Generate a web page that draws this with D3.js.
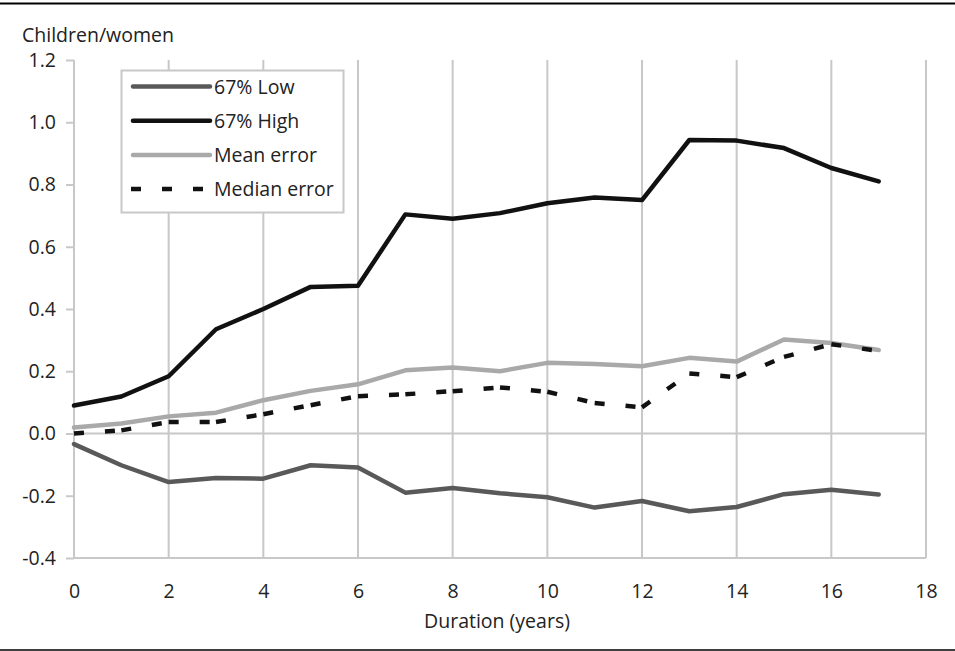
<!DOCTYPE html>
<html>
<head>
<meta charset="utf-8">
<script src="https://cdn.jsdelivr.net/npm/d3@7"></script>
<style>
  body { margin: 0; background: #fff; }
  text { font-family: "Open Sans", "Noto Sans", sans-serif; fill: #222; }
</style>
</head>
<body>
<script>
var years = [0, 1, 2, 3, 4, 5, 6, 7, 8, 9, 10, 11, 12, 13, 14, 15, 16, 17];
var low67 = [-0.034, -0.102, -0.156, -0.143, -0.145, -0.102, -0.109, -0.190, -0.175, -0.192, -0.205, -0.238, -0.217, -0.250, -0.236, -0.195, -0.181, -0.196];
var high67 = [0.090, 0.119, 0.184, 0.335, 0.400, 0.471, 0.475, 0.704, 0.690, 0.708, 0.740, 0.758, 0.750, 0.943, 0.941, 0.917, 0.853, 0.810];
var meanErr = [0.019, 0.032, 0.055, 0.067, 0.107, 0.137, 0.158, 0.203, 0.212, 0.200, 0.227, 0.223, 0.216, 0.243, 0.231, 0.302, 0.291, 0.268];
var medianErr = [0.000, 0.010, 0.037, 0.037, 0.062, 0.091, 0.120, 0.126, 0.136, 0.148, 0.134, 0.098, 0.084, 0.193, 0.181, 0.246, 0.287, 0.265];
var xTicks = [0, 2, 4, 6, 8, 10, 12, 14, 16, 18];
var yTicks = [-0.4, -0.2, 0.0, 0.2, 0.4, 0.6, 0.8, 1.0, 1.2];
var seriesNames = ["67% Low", "67% High", "Mean error", "Median error"];

var W = 955, H = 651;
var margin = {top: 60, right: 29, bottom: 93, left: 74};
var gridColor = "#c8c8c8";
var fontSize = "19.5px";

var svg = d3.select("body").append("svg")
    .attr("width", W)
    .attr("height", H);

// rules above and below the figure
svg.append("line").attr("x1", 0).attr("x2", W).attr("y1", 3.5).attr("y2", 3.5)
    .attr("stroke", "#000").attr("stroke-width", 2);
svg.append("line").attr("x1", 0).attr("x2", W).attr("y1", 650).attr("y2", 650)
    .attr("stroke", "#000").attr("stroke-width", 1.5);

var x = d3.scaleLinear().domain([0, 18]).range([margin.left, W - margin.right]);
var y = d3.scaleLinear().domain([-0.4, 1.2]).range([H - margin.bottom, margin.top]);

var g = svg.append("g");

// vertical grid
g.selectAll(".vgrid")
  .data(xTicks.filter(function(d){ return d > 0; }))
  .enter().append("line")
    .attr("x1", function(d){ return x(d); })
    .attr("x2", function(d){ return x(d); })
    .attr("y1", y(1.2))
    .attr("y2", y(-0.4))
    .attr("stroke", gridColor)
    .attr("stroke-width", 2);

// y axis
var yAxis = d3.axisLeft(y)
    .tickValues(yTicks)
    .tickSize(8)
    .tickPadding(10)
    .tickFormat(d3.format(".1f"));
var ya = g.append("g")
    .attr("transform", "translate(" + x(0) + ",0)")
    .call(yAxis);
ya.select(".domain").remove();
ya.selectAll(".tick line").attr("stroke", gridColor).attr("stroke-width", 2);
ya.selectAll(".tick text").style("font-size", fontSize).attr("fill", "#222")
    .text(function(d){ return d3.format(".1f")(d).replace("−", "-"); });
g.append("line")
    .attr("x1", x(0)).attr("x2", x(0))
    .attr("y1", y(1.2)).attr("y2", y(-0.4))
    .attr("stroke", gridColor).attr("stroke-width", 2);

// horizontal lines at 0 and bottom
[0, -0.4].forEach(function(v){
  g.append("line")
    .attr("x1", x(0)).attr("x2", x(18))
    .attr("y1", y(v)).attr("y2", y(v))
    .attr("stroke", gridColor).attr("stroke-width", 2);
});

// x tick labels
var xAxis = d3.axisBottom(x).tickValues(xTicks).tickSize(0).tickPadding(26);
var xa = g.append("g")
    .attr("transform", "translate(0," + y(-0.4) + ")")
    .call(xAxis);
xa.select(".domain").remove();
xa.selectAll(".tick text").style("font-size", fontSize).attr("fill", "#222");

// axis titles
svg.append("text").attr("x", 22).attr("y", 42)
    .style("font-size", fontSize).text("Children/women");
svg.append("text").attr("x", 497).attr("y", 628)
    .attr("text-anchor", "middle")
    .style("font-size", fontSize).text("Duration (years)");

// series
var line = d3.line()
    .x(function(d){ return x(d[0]); })
    .y(function(d){ return y(d[1]); });

var styles = [
  {data: low67, color: "#595959", dash: null},
  {data: high67, color: "#111111", dash: null},
  {data: meanErr, color: "#a9a9a9", dash: null},
  {data: medianErr, color: "#111111", dash: "10,21"}
];

styles.forEach(function(s){
  var pts = years.map(function(yr, i){ return [yr, s.data[i]]; });
  if (s.dash) {
    // dash pattern restarts at each segment
    for (var i = 0; i < pts.length - 1; i++) {
      g.append("path")
        .attr("d", line([pts[i], pts[i + 1]]))
        .attr("fill", "none")
        .attr("stroke", s.color)
        .attr("stroke-width", 4.5)
        .attr("stroke-dasharray", s.dash);
    }
  } else {
    g.append("path")
      .attr("d", line(pts))
      .attr("fill", "none")
      .attr("stroke", s.color)
      .attr("stroke-width", 4.5)
      .attr("stroke-linejoin", "round")
      .attr("stroke-linecap", "round");
  }
});

// legend
var leg = svg.append("g").attr("transform", "translate(121,70)");
leg.append("rect")
    .attr("x", 0.5).attr("y", 0.5)
    .attr("width", 222).attr("height", 142)
    .attr("fill", "#fff")
    .attr("stroke", gridColor)
    .attr("stroke-width", 2);
var items = leg.selectAll(".item")
  .data(styles)
  .enter().append("g")
    .attr("transform", function(d, i){ return "translate(0," + (16.5 + i * 34.2) + ")"; });
items.append("line")
    .attr("x1", function(d){ return d.dash ? 10 : 12; })
    .attr("x2", 89)
    .attr("stroke", function(d){ return d.color; })
    .attr("stroke-width", 4.5)
    .attr("stroke-linecap", function(d){ return d.dash ? "butt" : "round"; })
    .attr("stroke-dasharray", function(d){ return d.dash; });
items.append("text")
    .attr("x", 93)
    .attr("y", 7)
    .style("font-size", fontSize)
    .text(function(d, i){ return seriesNames[i]; });
</script>
</body>
</html>
